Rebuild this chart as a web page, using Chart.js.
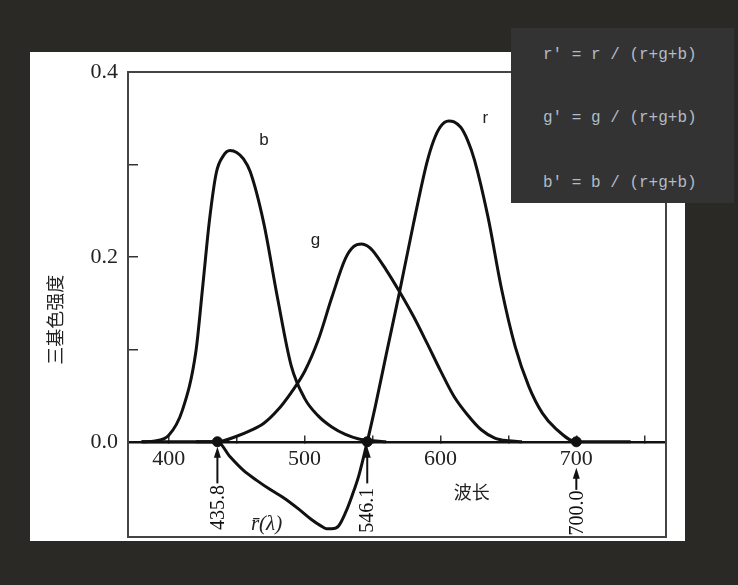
<!DOCTYPE html>
<html>
<head>
<meta charset="utf-8">
<script src="https://cdn.jsdelivr.net/npm/chart.js@4.4.1/dist/chart.umd.min.js"></script>
<style>
  html, body { margin: 0; padding: 0; width: 738px; height: 585px; overflow: hidden; background: #2b2925; }
  #panel { position: absolute; left: 30px; top: 52px; width: 655px; height: 489px; background: #fff; }
  #chart { position: absolute; left: 0; top: 0; }
  #code { position: absolute; left: 511px; top: 28px; width: 223px; height: 175px; background: #333333;
          color: #b3bcc6; font-family: 'Liberation Mono', monospace; font-size: 16px; white-space: pre; }
  #code div { position: absolute; left: 32px; line-height: 20px; }
</style>
</head>
<body>
<div id="panel"></div>
<canvas id="chart" width="738" height="585"></canvas>
<div id="code">
  <div style="top:17px">r' = r / (r+g+b)</div>
  <div style="top:80px">g' = g / (r+g+b)</div>
  <div style="top:145px">b' = b / (r+g+b)</div>
</div>
<script>
// wavelength (nm) ticks and intensity ticks
const wavelengthTicks = [400, 450, 500, 550, 600, 650, 700, 750];
const intensityTicks = [0, 0.1, 0.2, 0.3, 0.4];

// b curve
const bWave  = [380, 390, 400, 410, 420, 425, 430, 435, 440, 445, 450, 455, 460, 470, 480, 490, 500, 510, 520, 530, 540, 550, 560];
const bValue = [0, 0.001, 0.007, 0.034, 0.098, 0.168, 0.24, 0.291, 0.309, 0.315, 0.313, 0.306, 0.292, 0.236, 0.156, 0.083, 0.047, 0.028, 0.016, 0.008, 0.003, 0.001, 0];

// g curve
const gWave  = [420, 435.8, 450, 460, 470, 480, 490, 500, 510, 520, 530, 536, 542, 546, 550, 560, 570, 580, 590, 600, 610, 620, 630, 640, 650, 660];
const gValue = [0, 0, 0.006, 0.012, 0.020, 0.034, 0.053, 0.076, 0.110, 0.156, 0.198, 0.211, 0.214, 0.212, 0.207, 0.186, 0.162, 0.136, 0.107, 0.077, 0.049, 0.029, 0.013, 0.004, 0.001, 0];

// r curve (negative between the two primaries)
const rWave  = [380, 400, 420, 435.8, 445, 455, 465, 475, 485, 495, 505, 512, 516, 520, 525, 530, 535, 540, 546.1, 552, 560, 570, 580, 590, 595, 600, 606, 610, 615, 620, 625, 635, 645, 655, 665, 675, 685, 700, 720, 740];
const rValue = [0, 0, 0, 0, -0.016, -0.031, -0.042, -0.052, -0.061, -0.072, -0.084, -0.091, -0.094, -0.094, -0.091, -0.077, -0.058, -0.036, 0, 0.038, 0.094, 0.163, 0.235, 0.302, 0.326, 0.341, 0.347, 0.346, 0.340, 0.326, 0.305, 0.243, 0.165, 0.103, 0.060, 0.031, 0.014, 0, 0, 0];

// primary wavelengths
const primaryWave = [435.8, 546.1, 700.0];
const primaryLabels = ['435.8', '546.1', '700.0'];

function toPoints(xs, ys) {
  return xs.map((x, i) => ({ x: x, y: ys[i] }));
}

const curveStyle = {
  borderColor: '#111',
  borderWidth: 3,
  pointRadius: 0,
  fill: false,
  cubicInterpolationMode: 'monotone'
};

const decor = {
  id: 'decor',
  beforeDatasetsDraw(chart) {
    const { ctx, chartArea: a } = chart;
    ctx.save();
    ctx.strokeStyle = '#444';
    ctx.lineWidth = 2;
    ctx.strokeRect(a.left, a.top, a.right - a.left, a.bottom - a.top);
    ctx.restore();
  },
  afterDraw(chart) {
    const { ctx, scales: { x, y } } = chart;
    ctx.save();
    ctx.fillStyle = '#111';
    ctx.strokeStyle = '#111';
    ctx.lineWidth = 2;

    // arrows + rotated wavelength labels
    const arrowTop = [0, 0, -0.028];
    const arrowBottom = [-0.045, -0.045, -0.052];
    const textAt = [-0.071, -0.074, -0.077];
    primaryWave.forEach((w, i) => {
      const px = x.getPixelForValue(w);
      const tip = y.getPixelForValue(arrowTop[i]) + (i < 2 ? 5 : 0);
      const end = y.getPixelForValue(arrowBottom[i]);
      ctx.beginPath();
      ctx.moveTo(px, tip + 6);
      ctx.lineTo(px, end);
      ctx.stroke();
      ctx.beginPath();
      ctx.moveTo(px, tip);
      ctx.lineTo(px - 3.5, tip + 11);
      ctx.lineTo(px + 3.5, tip + 11);
      ctx.closePath();
      ctx.fill();

      ctx.save();
      ctx.translate(px, y.getPixelForValue(textAt[i]));
      ctx.rotate(-Math.PI / 2);
      ctx.font = '20px "Liberation Serif"';
      ctx.textAlign = 'center';
      ctx.textBaseline = 'middle';
      ctx.fillText(primaryLabels[i], 0, 1);
      ctx.restore();
    });

    // curve names
    ctx.fillStyle = '#222';
    ctx.textAlign = 'center';
    ctx.textBaseline = 'middle';
    ctx.font = '17px "Liberation Sans"';
    ctx.fillText('b', x.getPixelForValue(470), y.getPixelForValue(0.326));
    ctx.fillText('g', x.getPixelForValue(508), y.getPixelForValue(0.218));
    ctx.fillText('r', x.getPixelForValue(633), y.getPixelForValue(0.350));

    ctx.font = 'italic 21px "Liberation Serif"';
    ctx.fillText('r\u0304(\u03bb)', x.getPixelForValue(472), y.getPixelForValue(-0.090));

    ctx.font = '18px "Noto Sans CJK SC"';
    ctx.fillText('波长', x.getPixelForValue(623), y.getPixelForValue(-0.054));

    ctx.save();
    ctx.translate(55, y.getPixelForValue(0.132));
    ctx.rotate(-Math.PI / 2);
    ctx.fillText('三基色强度', 0, 0);
    ctx.restore();

    ctx.restore();
  }
};

new Chart(document.getElementById('chart'), {
  type: 'line',
  data: {
    datasets: [
      Object.assign({ label: 'b', data: toPoints(bWave, bValue) }, curveStyle),
      Object.assign({ label: 'g', data: toPoints(gWave, gValue) }, curveStyle),
      Object.assign({ label: 'r', data: toPoints(rWave, rValue) }, curveStyle),
      {
        type: 'scatter',
        label: 'primaries',
        data: primaryWave.map(w => ({ x: w, y: 0 })),
        pointRadius: 5,
        backgroundColor: '#111',
        borderColor: '#111'
      }
    ]
  },
  options: {
    responsive: false,
    animation: false,
    events: [],
    layout: { padding: { top: 72, right: 72, bottom: 48, left: 0 } },
    plugins: {
      legend: { display: false },
      tooltip: { enabled: false }
    },
    scales: {
      x: {
        type: 'linear',
        position: { y: 0 },
        min: 370,
        max: 766,
        afterFit(s) { s.height = 0; },
        afterBuildTicks(s) { s.ticks = wavelengthTicks.map(v => ({ value: v })); },
        ticks: {
          autoSkip: false,
          maxRotation: 0,
          padding: 12,
          color: '#222',
          font: { family: 'Liberation Serif', size: 22 },
          callback: v => (v % 100 === 0 ? String(v) : '')
        },
        grid: { drawOnChartArea: false, tickLength: -8, color: '#333', lineWidth: 1.5 },
        border: { display: true, color: '#111', width: 2.5 }
      },
      y: {
        min: -0.103,
        max: 0.4,
        afterFit(s) { s.width = 128; },
        afterBuildTicks(s) { s.ticks = intensityTicks.map(v => ({ value: v })); },
        ticks: {
          padding: 20,
          color: '#222',
          font: { family: 'Liberation Serif', size: 22 },
          callback: v => (Math.round(v * 10) % 2 === 0 ? v.toFixed(1) : '')
        },
        grid: { drawOnChartArea: false, tickLength: -10, color: '#333', lineWidth: 1.5 },
        border: { display: false }
      }
    }
  },
  plugins: [decor]
});
</script>
</body>
</html>
